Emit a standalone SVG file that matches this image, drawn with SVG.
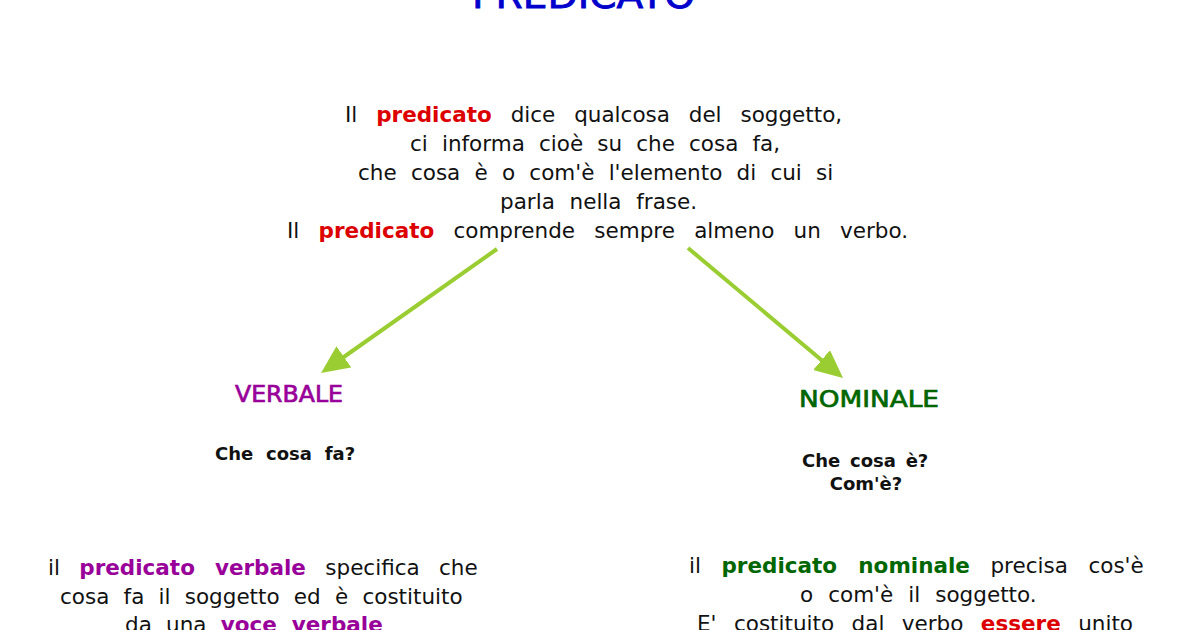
<svg xmlns="http://www.w3.org/2000/svg" width="1200" height="630" viewBox="0 0 1200 630">
<style>
.body{font-family:"DejaVu Sans","Liberation Sans",sans-serif;font-size:21.5px;fill:#111111}
.hd{font-family:"DejaVu Sans","Liberation Sans",sans-serif;font-size:23px;stroke-width:0.7}
.q{font-family:"DejaVu Sans","Liberation Sans",sans-serif;font-size:18px;font-weight:bold;fill:#111111}
.b{font-weight:bold}
.red{fill:#dd0000}
.pur{fill:#990099}
.grn{fill:#006600}
.hd.pur{stroke:#990099}
.hd.grn{stroke:#006600}
.arrow{stroke:#9acd32;stroke-width:4;fill:none}
</style>
<defs>
<marker id="ah" viewBox="0 0 28 26" refX="8" refY="13" markerWidth="28" markerHeight="26" markerUnits="userSpaceOnUse" orient="auto">
<path d="M0,0 L28,13 L0,26 z" fill="#9acd32"/>
</marker>
</defs>
<rect width="1200" height="630" fill="#ffffff"/>
<g id="title">
<text x="472" y="8" textLength="223" lengthAdjust="spacingAndGlyphs" style="font-family:'DejaVu Sans',sans-serif;font-size:36px;fill:#0000cc;stroke:#0000cc;stroke-width:0.8">PREDICATO</text>
</g>
<g id="definition" class="body">
<text x="345" y="122" word-spacing="12">Il <tspan class="b red">predicato</tspan> dice qualcosa del soggetto,</text>
<text x="410" y="151" word-spacing="7.3">ci informa cioè su che cosa fa,</text>
<text x="358" y="180" word-spacing="7.4">che cosa è o com'è l'elemento di cui si</text>
<text x="500" y="209" word-spacing="7.9">parla nella frase.</text>
<text x="287" y="238" word-spacing="12.4">Il <tspan class="b red">predicato</tspan> comprende sempre almeno un verbo.</text>
</g>
<g id="connectors">
<line class="arrow" x1="497" y1="249" x2="337.4" y2="361.5" marker-end="url(#ah)"/>
<line class="arrow" x1="688" y1="248" x2="827.7" y2="365.2" marker-end="url(#ah)"/>
</g>
<g id="verbale">
<text class="hd pur" x="235" y="402" textLength="108" lengthAdjust="spacingAndGlyphs">VERBALE</text>
<text class="q" x="215" y="460" word-spacing="6.5">Che cosa fa?</text>
<g class="body">
<text x="48" y="575" word-spacing="12.5">il <tspan class="b pur">predicato verbale</tspan> specifica che</text>
<text x="60" y="604" word-spacing="7.4">cosa fa il soggetto ed è costituito</text>
<text x="125" y="632" word-spacing="7.4">da una <tspan class="b pur">voce verbale</tspan></text>
</g>
</g>
<g id="nominale">
<text class="hd grn" x="799" y="407" textLength="140" lengthAdjust="spacingAndGlyphs">NOMINALE</text>
<text class="q" x="802" y="467" word-spacing="3.5">Che cosa è?</text>
<text class="q" x="866" y="490" text-anchor="middle">Com'è?</text>
<g class="body">
<text x="689" y="573" word-spacing="13.7">il <tspan class="b grn">predicato nominale</tspan> precisa cos'è</text>
<text x="800" y="602" word-spacing="8.2">o com'è il soggetto.</text>
<text x="697" y="631" word-spacing="10.6">E' costituito dal verbo <tspan class="b red">essere</tspan> unito</text>
</g>
</g>
</svg>
